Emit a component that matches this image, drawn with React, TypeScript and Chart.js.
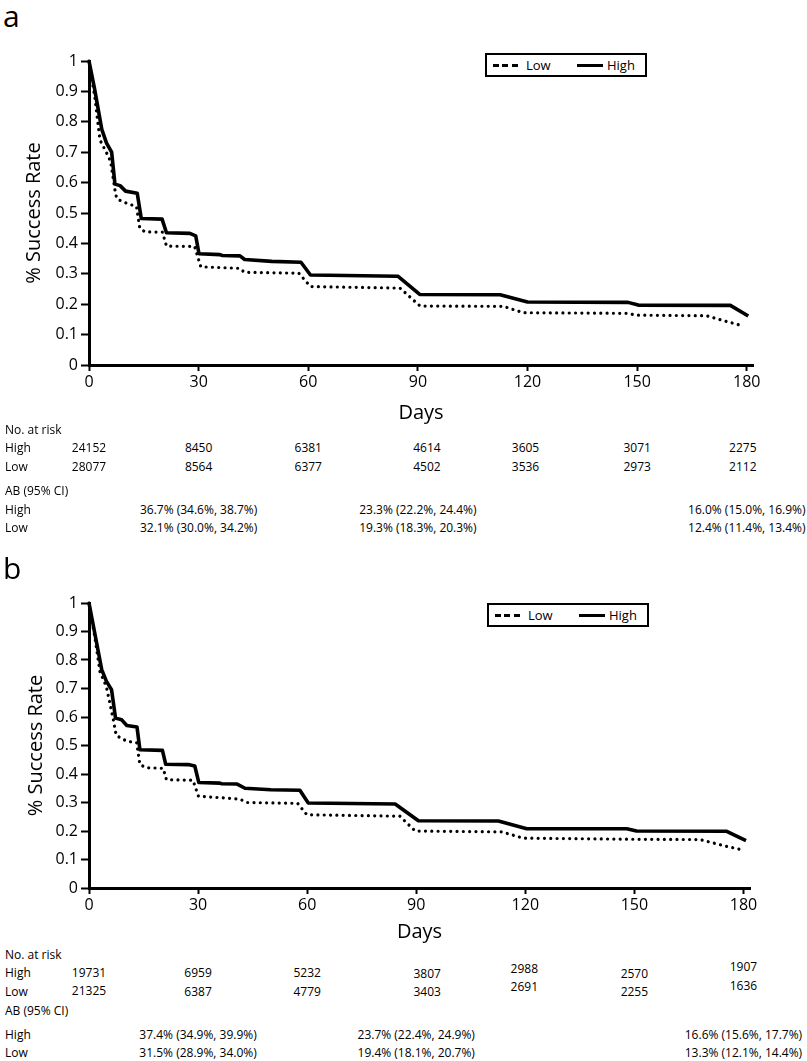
import React, { useEffect, useRef, useState } from 'react';
import { Chart, registerables } from 'chart.js';

Chart.register(...registerables);

const FONT = "'Open Sans', 'Noto Sans', sans-serif";
Chart.defaults.font.family = FONT;
Chart.defaults.color = '#000';

// ---------- axis ticks ----------
const xTickDays = [0, 30, 60, 90, 120, 150, 180];
const yTickValues = [0, 0.1, 0.2, 0.3, 0.4, 0.5, 0.6, 0.7, 0.8, 0.9, 1];
const seriesNames = ['Low', 'High'];
const rowNames = ['High', 'Low'];
const abDays = [30, 90, 180];

// ---------- panel a ----------
const highDaysA = [0, 1.5, 3.5, 4.8, 6.2, 7.1, 8.5, 10, 13.2, 14.3, 20, 21.2, 27.6, 29.2, 30.1, 35.8, 36.5, 41.3, 42.6, 50, 58, 60.6, 84.5, 90.5, 112.5, 120, 147.5, 150.3, 175.5, 180.4];
const highRateA = [1.0, 0.91, 0.775, 0.73, 0.70, 0.595, 0.59, 0.572, 0.565, 0.482, 0.48, 0.435, 0.433, 0.425, 0.366, 0.363, 0.36, 0.359, 0.347, 0.341, 0.338, 0.296, 0.292, 0.232, 0.231, 0.207, 0.206, 0.197, 0.196, 0.161];
const lowDaysA = [0, 1.6, 3.0, 4.8, 5.9, 6.8, 7.3, 7.8, 10.3, 13.0, 13.9, 15.3, 20.1, 21.2, 28.9, 30.6, 41.3, 42.5, 57.4, 60.6, 85.1, 90.6, 113.4, 118.8, 147.1, 149.8, 169, 174.5, 179.2];
const lowRateA = [1.0, 0.88, 0.74, 0.698, 0.67, 0.60, 0.56, 0.545, 0.532, 0.521, 0.45, 0.438, 0.437, 0.391, 0.39, 0.323, 0.318, 0.305, 0.302, 0.258, 0.253, 0.194, 0.193, 0.172, 0.17, 0.164, 0.162, 0.143, 0.128];
const riskHighA = ['24152', '8450', '6381', '4614', '3605', '3071', '2275'];
const riskLowA = ['28077', '8564', '6377', '4502', '3536', '2973', '2112'];
const abHighA = ['36.7% (34.6%, 38.7%)', '23.3% (22.2%, 24.4%)', '16.0% (15.0%, 16.9%)'];
const abLowA = ['32.1% (30.0%, 34.2%)', '19.3% (18.3%, 20.3%)', '12.4% (11.4%, 13.4%)'];

// ---------- panel b ----------
const highDaysB = [0, 1.5, 3.5, 4.8, 6.2, 7.3, 9, 10.4, 13.2, 14, 20.2, 21.1, 27.3, 29.1, 30.2, 36, 36.5, 40.6, 42.9, 50, 58, 60.3, 84.2, 90.6, 112.6, 120.4, 147.9, 150.6, 175.4, 180.7];
const highRateB = [1.0, 0.9, 0.766, 0.725, 0.696, 0.596, 0.59, 0.57, 0.565, 0.485, 0.483, 0.434, 0.433, 0.428, 0.37, 0.368, 0.366, 0.365, 0.35, 0.345, 0.343, 0.298, 0.295, 0.236, 0.235, 0.208, 0.208, 0.2, 0.199, 0.166];
const lowDaysB = [0, 1.6, 3.0, 4.8, 6.7, 7.1, 7.5, 10.4, 13.1, 14, 15.8, 20.4, 21.3, 28.6, 30.1, 41.5, 43.4, 57.4, 59.9, 85.5, 89.7, 113.5, 119.4, 149.7, 168, 175.4, 179.6];
const lowRateB = [1.0, 0.88, 0.76, 0.705, 0.59, 0.561, 0.535, 0.515, 0.51, 0.433, 0.422, 0.42, 0.38, 0.378, 0.322, 0.312, 0.3, 0.297, 0.257, 0.252, 0.2, 0.197, 0.175, 0.171, 0.17, 0.146, 0.134];
const riskHighB = ['19731', '6959', '5232', '3807', '2988', '2570', '1907'];
const riskLowB = ['21325', '6387', '4779', '3403', '2691', '2255', '1636'];
const abHighB = ['37.4% (34.9%, 39.9%)', '23.7% (22.4%, 24.9%)', '16.6% (15.6%, 17.7%)'];
const abLowB = ['31.5% (28.9%, 34.0%)', '19.4% (18.1%, 20.7%)', '13.3% (12.1%, 14.4%)'];

type Layout = {
  letter: string;
  letterTop: number;
  canvasTop: number;
  canvasHeight: number;
  padTop: number;
  padRight: number;
  xScaleHeight: number;
  xMax: number;
  yTitlePad: number;
  legendLeft: number;
  legendTop: number;
  rowY: { risk: number; high: number; low: number; ab: number; abHigh: number; abLow: number };
  riskNudgeX: number[];
  highNudgeY: number[];
  lowNudgeY: number[];
};

type PanelProps = {
  layout: Layout;
  highDays: number[];
  highRate: number[];
  lowDays: number[];
  lowRate: number[];
  riskHigh: string[];
  riskLow: string[];
  abHigh: string[];
  abLow: string[];
};

const txt = (left: number, top: number, center: boolean, size = 12): React.CSSProperties => ({
  position: 'absolute',
  left,
  top,
  transform: center ? 'translate(-50%, -50%)' : 'translate(0, -50%)',
  fontSize: size,
  lineHeight: 1,
  whiteSpace: 'nowrap',
  fontFamily: FONT,
  color: '#000',
});

function Panel({ layout: L, highDays, highRate, lowDays, lowRate, riskHigh, riskLow, abHigh, abLow }: PanelProps) {
  const canvasRef = useRef<HTMLCanvasElement>(null);
  const [xs, setXs] = useState<{ risk: number[]; ab: number[] } | null>(null);

  useEffect(() => {
    if (!canvasRef.current) return;
    const tickGrid = (len: number) => ({
      display: true,
      drawOnChartArea: false,
      drawTicks: true,
      tickLength: len,
      tickColor: '#000',
      tickWidth: 2,
      color: '#000',
    });
    const chart = new Chart(canvasRef.current, {
      type: 'line',
      data: {
        datasets: [
          {
            label: seriesNames[0],
            data: lowDays.map((d, i) => ({ x: d, y: lowRate[i] })),
            borderColor: '#000',
            borderWidth: 3.2,
            borderDash: [0.01, 6.3],
            borderCapStyle: 'round',
            borderJoinStyle: 'round',
            pointRadius: 0,
            tension: 0,
            fill: false,
            clip: false as any,
          },
          {
            label: seriesNames[1],
            data: highDays.map((d, i) => ({ x: d, y: highRate[i] })),
            borderColor: '#000',
            borderWidth: 3.6,
            borderJoinStyle: 'round',
            pointRadius: 0,
            tension: 0,
            fill: false,
            clip: false as any,
          },
        ],
      },
      options: {
        responsive: false,
        animation: false,
        devicePixelRatio: 1,
        events: [],
        layout: { padding: { top: L.padTop, right: L.padRight, left: 0, bottom: 0 } },
        plugins: { legend: { display: false }, tooltip: { enabled: false } },
        scales: {
          x: {
            type: 'linear',
            min: 0,
            max: L.xMax,
            afterBuildTicks: (s: any) => {
              s.ticks = xTickDays.map((v) => ({ value: v }));
            },
            afterFit: (s: any) => {
              s.height = L.xScaleHeight;
            },
            ticks: {
              color: '#000',
              font: { size: 16, family: FONT },
              padding: 2,
              maxRotation: 0,
              autoSkip: false,
              callback: (v: any) => String(v),
            },
            grid: tickGrid(6) as any,
            border: { display: true, color: '#000', width: 3 },
            title: {
              display: true,
              text: 'Days',
              color: '#000',
              font: { size: 20, family: FONT, lineHeight: 1.2 },
              padding: 0,
            },
          },
          y: {
            type: 'linear',
            min: 0,
            max: 1,
            afterBuildTicks: (s: any) => {
              s.ticks = yTickValues.map((v) => ({ value: v }));
            },
            afterFit: (s: any) => {
              s.width = 89;
            },
            ticks: {
              color: '#000',
              font: { size: 16, family: FONT },
              padding: 3,
              callback: (v: any) => String(Math.round(Number(v) * 10) / 10),
            },
            grid: tickGrid(8) as any,
            border: { display: true, color: '#000', width: 3 },
            title: {
              display: true,
              text: '% Success Rate',
              color: '#000',
              font: { size: 20, family: FONT, lineHeight: 1.2 },
              padding: { top: L.yTitlePad, bottom: 0 },
            },
          },
        },
      },
    });
    const sx = chart.scales.x;
    setXs({
      risk: xTickDays.map((d) => sx.getPixelForValue(d)),
      ab: abDays.map((d) => sx.getPixelForValue(d)),
    });
    return () => chart.destroy();
  }, []);

  const R = L.rowY;
  return (
    <>
      <div
        style={{
          position: 'absolute',
          left: 3,
          top: L.letterTop,
          fontSize: 30,
          lineHeight: '30px',
          fontFamily: FONT,
          color: '#000',
        }}
      >
        {L.letter}
      </div>
      <canvas
        ref={canvasRef}
        width={807}
        height={L.canvasHeight}
        style={{ position: 'absolute', left: 0, top: L.canvasTop, width: 807, height: L.canvasHeight }}
      />
      {/* legend */}
      <div
        style={{
          position: 'absolute',
          left: L.legendLeft,
          top: L.legendTop,
          width: 162,
          height: 24,
          boxSizing: 'border-box',
          border: '2px solid #000',
          background: '#fff',
        }}
      >
        <div
          style={{
            position: 'absolute',
            left: 6,
            top: 9,
            width: 25,
            height: 3,
            background: 'repeating-linear-gradient(to right, #000 0 6px, transparent 6px 9.5px)',
          }}
        />
        <div style={txt(39, 10, false, 13)}>{seriesNames[0]}</div>
        <div style={{ position: 'absolute', left: 90, top: 9, width: 26, height: 3, background: '#000' }} />
        <div style={txt(120, 10, false, 13)}>{seriesNames[1]}</div>
      </div>
      {/* risk table */}
      <div style={txt(5, R.risk, false)}>No. at risk</div>
      <div style={txt(5, R.high, false)}>{rowNames[0]}</div>
      <div style={txt(5, R.low, false)}>{rowNames[1]}</div>
      <div style={txt(5, R.ab, false)}>AB (95% CI)</div>
      <div style={txt(5, R.abHigh, false)}>{rowNames[0]}</div>
      <div style={txt(5, R.abLow, false)}>{rowNames[1]}</div>
      {xs &&
        riskHigh.map((v, i) => (
          <div key={'rh' + i} style={txt(xs.risk[i] + L.riskNudgeX[i], R.high + L.highNudgeY[i], true)}>
            {v}
          </div>
        ))}
      {xs &&
        riskLow.map((v, i) => (
          <div key={'rl' + i} style={txt(xs.risk[i] + L.riskNudgeX[i], R.low + L.lowNudgeY[i], true)}>
            {v}
          </div>
        ))}
      {xs &&
        abHigh.map((v, i) => (
          <div key={'ah' + i} style={txt(xs.ab[i], R.abHigh, true)}>
            {v}
          </div>
        ))}
      {xs &&
        abLow.map((v, i) => (
          <div key={'al' + i} style={txt(xs.ab[i], R.abLow, true)}>
            {v}
          </div>
        ))}
    </>
  );
}

const layoutA: Layout = {
  letter: 'a',
  letterTop: 1,
  canvasTop: 40,
  canvasHeight: 385,
  padTop: 21,
  padRight: 54,
  xScaleHeight: 60,
  xMax: 181.7,
  yTitlePad: 22,
  legendLeft: 485,
  legendTop: 53,
  rowY: { risk: 430, high: 448, low: 467, ab: 491, abHigh: 510, abLow: 528 },
  riskNudgeX: [0, 0, 0, 9, -2, 0, -4],
  highNudgeY: [0, 0, 0, 0, 0, 0, 0],
  lowNudgeY: [0, 0, 0, 0, 0, 0, 0],
};

const layoutB: Layout = {
  letter: 'b',
  letterTop: 553,
  canvasTop: 582,
  canvasHeight: 362,
  padTop: 21,
  padRight: 57,
  xScaleHeight: 56,
  xMax: 181.8,
  yTitlePad: 24.5,
  legendLeft: 487,
  legendTop: 603,
  rowY: { risk: 955, high: 973, low: 992, ab: 1011, abHigh: 1035, abLow: 1053 },
  riskNudgeX: [0, 0, 0, 11, -1, 0, 0],
  highNudgeY: [0, 0, 0, 1, -4, 1, -6],
  lowNudgeY: [-1, 0, 0, 0, -5, 0, -6],
};

export default function App() {
  return (
    <div style={{ position: 'absolute', left: 0, top: 0, width: 807, height: 1061, background: '#fff', overflow: 'hidden' }}>
      <Panel
        layout={layoutA}
        highDays={highDaysA}
        highRate={highRateA}
        lowDays={lowDaysA}
        lowRate={lowRateA}
        riskHigh={riskHighA}
        riskLow={riskLowA}
        abHigh={abHighA}
        abLow={abLowA}
      />
      <Panel
        layout={layoutB}
        highDays={highDaysB}
        highRate={highRateB}
        lowDays={lowDaysB}
        lowRate={lowRateB}
        riskHigh={riskHighB}
        riskLow={riskLowB}
        abHigh={abHighB}
        abLow={abLowB}
      />
    </div>
  );
}
